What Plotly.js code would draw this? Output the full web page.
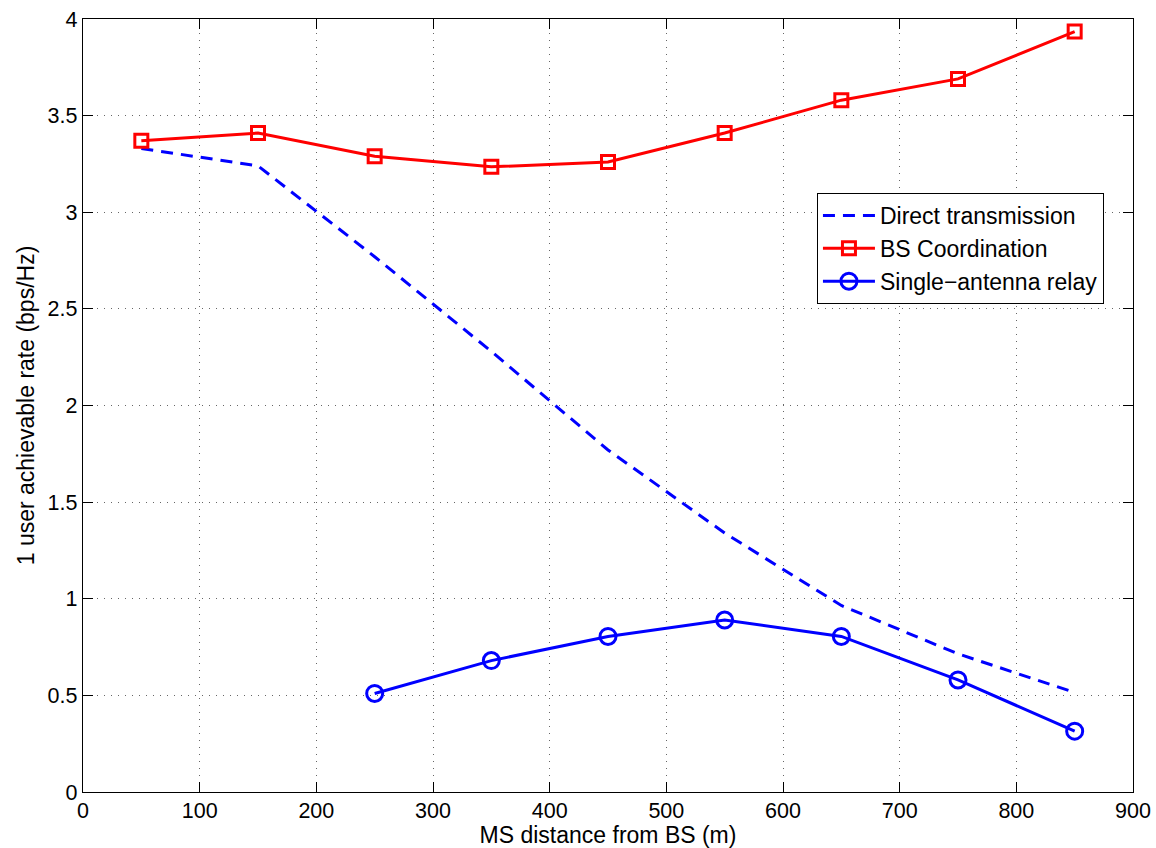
<!DOCTYPE html>
<html>
<head>
<meta charset="utf-8">
<script src="https://cdn.plot.ly/plotly-3.0.1.min.js"></script>
<style>
  html, body { margin: 0; padding: 0; background: #ffffff; }
  #chart { width: 1156px; height: 848px; }
</style>
</head>
<body>
<div id="chart"></div>
<script>
// MS distance from the base station (m)
const distance = [50, 150, 250, 350, 450, 550, 650, 750, 850];
// Rate without relaying or coordination
const directRate = [3.33, 3.24, 2.77, 2.28, 1.77, 1.34, 0.965, 0.715, 0.515];
// Rate with base-station coordination
const bsCoordRate = [3.37, 3.41, 3.29, 3.235, 3.26, 3.41, 3.58, 3.69, 3.935];
// Single-antenna relay is only evaluated from 250 m outwards
const relayDistance = [250, 350, 450, 550, 650, 750, 850];
const relayRate = [0.51, 0.68, 0.805, 0.89, 0.805, 0.58, 0.315];

const xTicks = [0, 100, 200, 300, 400, 500, 600, 700, 800, 900];
const yTicks = [0, 0.5, 1, 1.5, 2, 2.5, 3, 3.5, 4];
const yTickLabels = ['0', '0.5', '1', '1.5', '2', '2.5', '3', '3.5', '4'];

const seriesNames = ['Direct transmission', 'BS Coordination', 'Single\u2212antenna relay'];

const FONT = '"Liberation Sans", Arial, Helvetica, sans-serif';
const FS = 23;
const TICK_FS = 21.5;

const traces = [
  {
    x: distance, y: directRate, name: seriesNames[0], legendgroup: 'a',
    type: 'scatter', mode: 'lines',
    line: { color: '#0000ff', width: 3, dash: '12px,8px' }
  },
  {
    x: distance, y: bsCoordRate, name: seriesNames[1], legendgroup: 'b',
    type: 'scatter', mode: 'lines+markers',
    line: { color: '#ff0000', width: 3 },
    marker: { symbol: 'square-open', size: 13, color: '#ff0000', line: { color: '#ff0000', width: 3 } }
  },
  {
    x: relayDistance, y: relayRate, name: seriesNames[2], legendgroup: 'c',
    type: 'scatter', mode: 'lines+markers',
    line: { color: '#0000ff', width: 3 },
    marker: { symbol: 'circle-open', size: 16, color: '#0000ff', line: { color: '#0000ff', width: 3 } }
  }
];

const axisCommon = {
  showline: true, linecolor: '#000000', linewidth: 1.3, mirror: 'ticks',
  ticks: 'inside', ticklen: 10, tickwidth: 1, tickcolor: '#000000',
  showgrid: true, gridcolor: '#666666', gridwidth: 1, griddash: '1px,6px',
  zeroline: false, fixedrange: true,
  tickfont: { family: FONT, size: TICK_FS, color: '#000000' }
};

const layout = {
  width: 1156, height: 848,
  margin: { l: 83, r: 23, t: 19, b: 56 },
  paper_bgcolor: '#ffffff', plot_bgcolor: '#ffffff',
  font: { family: FONT, size: FS, color: '#000000' },
  showlegend: true,
  legend: {
    x: 0.699, y: 0.775, xanchor: 'left', yanchor: 'top',
    bgcolor: '#ffffff', bordercolor: '#000000', borderwidth: 1,
    font: { family: FONT, size: FS, color: '#000000' },
    itemwidth: 52, tracegroupgap: 4, traceorder: 'normal'
  },
  xaxis: Object.assign({}, axisCommon, {
    range: [0, 900], tickmode: 'array', tickvals: xTicks,
    ticklabelstandoff: -1,
    title: { text: 'MS distance from BS (m)', font: { family: FONT, size: FS }, standoff: 6 }
  }),
  yaxis: Object.assign({}, axisCommon, {
    range: [0, 4], tickmode: 'array', tickvals: yTicks, ticktext: yTickLabels,
    title: { text: '1 user achievable rate (bps/Hz)', font: { family: FONT, size: FS }, standoff: 6 }
  })
};

Plotly.newPlot('chart', traces, layout, { displayModeBar: false, staticPlot: true });
</script>
</body>
</html>
